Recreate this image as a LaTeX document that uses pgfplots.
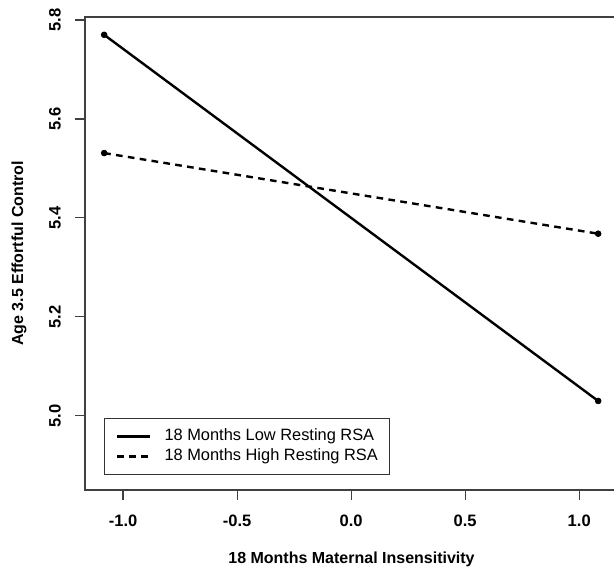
\documentclass[border=0pt]{standalone}
\usepackage{fontspec}
\setmainfont{Liberation Sans}
\usepackage{pgfplots}
\pgfplotsset{compat=1.18}
\usetikzlibrary{calc}

\begin{document}
\begin{tikzpicture}
\begin{axis}[
    name=ax,
    scale only axis, width=399.75pt, height=354.75pt,
    xmin=-1.167, xmax=1.170, ymin=4.850, ymax=5.806,
    xtick={-1,-0.5,0,0.5,1}, xticklabels={-1.0,-0.5,0.0,0.5,1.0},
    ytick={5.0,5.2,5.4,5.6,5.8}, yticklabels={5.0,5.2,5.4,5.6,5.8},
    tick align=outside, tick pos=left, major tick length=7.5pt,
    axis line style={line width=0.9pt, black!75},
    tick style={line width=0.9pt, black!75},
    ticklabel style={font=\bfseries\fontsize{12.4}{14}\selectfont, inner sep=0pt},
    xticklabel style={anchor=north},
    yticklabel style={rotate=90, anchor=south},
    xticklabel shift=11.25pt,
    yticklabel shift=10.5pt,
    xlabel={18 Months Maternal Insensitivity},
    ylabel={Age 3.5 Effortful Control},
    xlabel style={font=\bfseries\fontsize{12}{14}\selectfont,
                  at={(axis description cs:0.5,-0.1470)}, anchor=center},
    ylabel style={font=\bfseries\fontsize{12}{14}\selectfont,
                  at={(axis description cs:-0.1240,0.5)}, anchor=center},
    legend style={at={(0.0356,0.152)}, anchor=north west, draw=black!80,
                  line width=0.75pt, inner xsep=4.25pt, inner ysep=6pt,
                  font=\fontsize{12.3}{15}\selectfont,
                  nodes={inner xsep=4.5pt, inner ysep=1.5pt, text height=9pt, text depth=3pt},
                  row sep=0pt},
    legend cell align=left,
    legend image code/.code={\path (0pt,0pt) (34.5pt,0pt);
                             \draw[#1] (4.5pt,0pt) -- (29.25pt,0pt);},
  ]
  % low resting RSA
  \addplot[black, line width=1.8pt, mark=*, mark size=2.2pt,
           mark options={solid, line width=0.5pt}]
    coordinates {(-1.083,5.770) (1.083,5.030)};
  \addlegendentry{18 Months Low Resting RSA}
  % high resting RSA
  \addplot[black, line width=1.8pt, dash pattern=on 5pt off 4pt, mark=*, mark size=2.2pt,
           mark options={solid, line width=0.5pt}]
    coordinates {(-1.083,5.531) (1.083,5.368)};
  \addlegendentry{18 Months High Resting RSA}
\end{axis}
\pgfresetboundingbox
\path[use as bounding box] ($(ax.south west)+(-63.75pt,-59.25pt)$) rectangle ($(ax.north west)+(396.75pt,12.75pt)$);
\end{tikzpicture}
\end{document}
